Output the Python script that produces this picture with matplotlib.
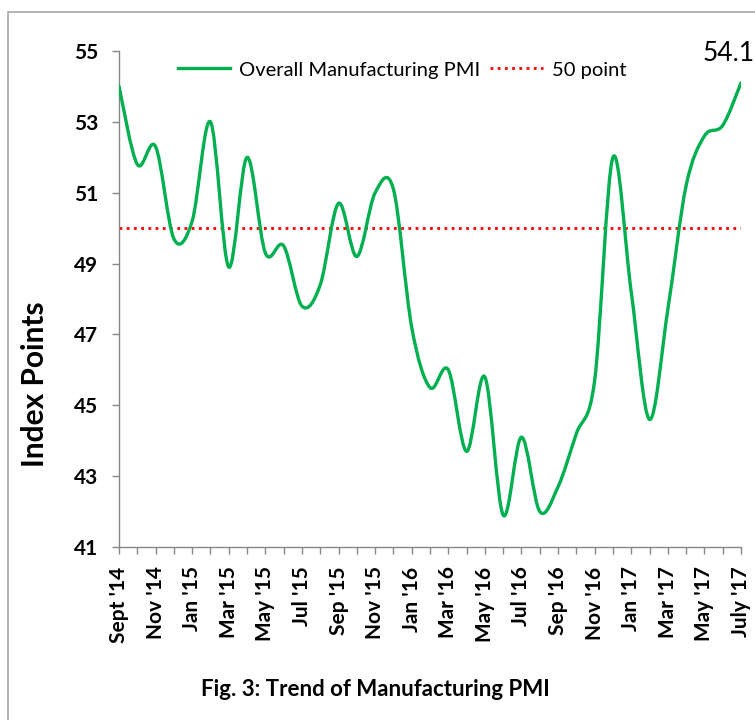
import numpy as np
import matplotlib
matplotlib.use("Agg")
import matplotlib.pyplot as plt
from matplotlib.path import Path
from matplotlib.patches import PathPatch, Rectangle
from matplotlib.lines import Line2D

months = ["Sept '14", "Oct '14", "Nov '14", "Dec '14", "Jan '15", "Feb '15", "Mar '15", "Apr '15",
          "May '15", "Jun '15", "Jul '15", "Aug '15", "Sep '15", "Oct '15", "Nov '15", "Dec '15",
          "Jan '16", "Feb '16", "Mar '16", "Apr '16", "May '16", "Jun '16", "Jul '16", "Aug '16",
          "Sep '16", "Oct '16", "Nov '16", "Dec '16", "Jan '17", "Feb '17", "Mar '17", "Apr '17",
          "May '17", "Jun '17", "July '17"]
pmi = [54.0, 51.8, 52.3, 49.7, 50.2, 53.0, 48.9, 52.0, 49.3, 49.5, 47.8, 48.4,
       50.7, 49.2, 51.0, 51.1, 47.2, 45.5, 46.0, 43.7, 45.8, 41.9, 44.1, 42.0,
       42.7, 44.2, 45.7, 52.0, 48.2, 44.6, 47.7, 51.2, 52.6, 52.9, 54.1]
threshold = 50
yticks = [41, 43, 45, 47, 49, 51, 53, 55]

plt.rcParams['font.family'] = ['Lato', 'DejaVu Sans']

fig = plt.figure(figsize=(7.55, 7.2), dpi=100)
W, H = 755, 720
ax = fig.add_axes([119 / W, 1 - 547 / H, (741 - 119) / W, (547 - 51) / H])

x = np.arange(len(pmi), dtype=float)
y = np.array(pmi, dtype=float)

# smooth curve (Catmull-Rom style Bezier, like Excel's smoothed line)
verts = [(x[0], y[0])]
codes = [Path.MOVETO]
n = len(x)
for i in range(n - 1):
    p0 = np.array([x[max(i - 1, 0)], y[max(i - 1, 0)]])
    p1 = np.array([x[i], y[i]])
    p2 = np.array([x[i + 1], y[i + 1]])
    p3 = np.array([x[min(i + 2, n - 1)], y[min(i + 2, n - 1)]])
    c1 = p1 + (p2 - p0) / 6.0
    c2 = p2 - (p3 - p1) / 6.0
    verts += [tuple(c1), tuple(c2), tuple(p2)]
    codes += [Path.CURVE4] * 3
path = Path(verts, codes)
green = '#00B050'
ax.add_patch(PathPatch(path, facecolor='none', edgecolor=green, lw=2.4,
                       capstyle='round', joinstyle='round', zorder=3))

ax.axhline(threshold, color='#FF0000', lw=2.0, linestyle=(0, (1, 1.6)), zorder=2)

ax.set_xlim(0, len(pmi) - 1)
ax.set_ylim(41, 55)
ax.set_yticks(yticks)
ax.set_yticklabels([str(v) for v in yticks], fontsize=15, fontweight='bold')
ax.set_xticks(x)
ax.set_xticklabels([m if i % 2 == 0 else '' for i, m in enumerate(months)],
                   rotation=90, fontsize=15, fontweight='bold')
ax.tick_params(axis='both', direction='out', length=5, color='#868686', width=1)
ax.tick_params(axis='x', pad=9)
ax.tick_params(axis='y', pad=10)
for s in ['top', 'right']:
    ax.spines[s].set_visible(False)
for s in ['left', 'bottom']:
    ax.spines[s].set_color('#868686')
    ax.spines[s].set_linewidth(1)

fig.text(35 / W, 1 - 384 / H, 'Index Points', rotation=90, ha='center', va='center',
         fontsize=21.5, fontweight='bold')

handles = [Line2D([0], [0], color=green, lw=2.4),
           Line2D([0], [0], color='#FF0000', lw=2.0, linestyle=(0, (1, 1.6)))]
fig.legend(handles, ['Overall Manufacturing PMI', '50 point'], ncol=2, frameon=False,
           fontsize=14.5, loc='center', bbox_to_anchor=(402 / W, 1 - 70 / H),
           handlelength=2.6, handletextpad=0.45, columnspacing=0.5)

ax.annotate(f'{pmi[-1]:.1f}', xy=(x[-1], y[-1]), xytext=(10, 12), textcoords='offset points',
            ha='right', va='bottom', fontsize=19, annotation_clip=False)

fig.text(375 / W, 1 - 690 / H, 'Fig. 3: Trend of Manufacturing PMI', ha='center', va='center',
         fontsize=16, fontweight='bold')

fig.patches.append(Rectangle((8 / W, -0.05), 1.1, 1 - 12 / H + 0.05, transform=fig.transFigure,
                             fill=False, edgecolor='#A6A6A6', lw=1.2))

fig.savefig('out.png', dpi=100)
